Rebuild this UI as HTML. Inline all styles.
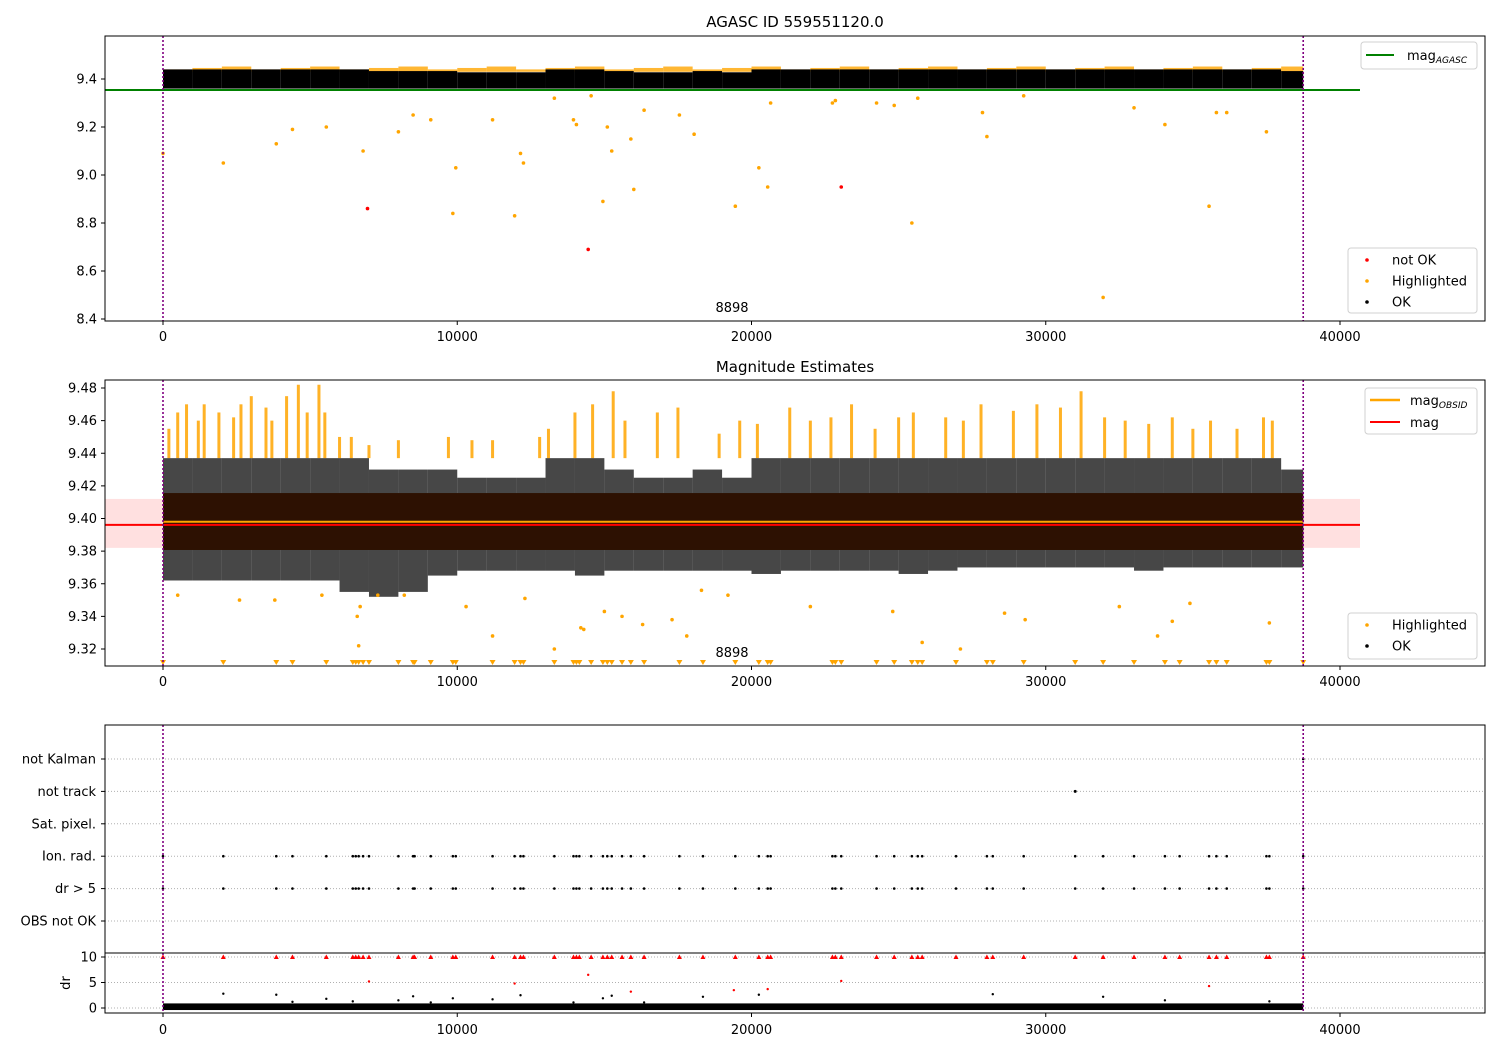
<!DOCTYPE html>
<html><head><meta charset="utf-8"><style>
html,body{margin:0;padding:0;background:#fff;}
svg{display:block;font-family:"DejaVu Sans","Liberation Sans",sans-serif;}
</style></head><body>
<svg id="chart" width="1500" height="1050" xmlns="http://www.w3.org/2000/svg"></svg>
<script>
// ---------- data ----------
const eventTimes = [0,2050,3850,4400,5550,6450,6550,6650,6800,7000,8000,8500,8550,9100,9850,9950,11200,11950,12150,12250,13300,13950,14050,14150,14550,14950,15100,15250,15600,15900,16350,17550,18350,19450,20250,20550,20650,22750,22850,23050,24250,24850,25450,25650,25800,26950,28000,28200,29250,31000,31950,33000,34050,34550,35550,35800,36150,37500,37600,38750];
const agascHighX = [0,2050,3850,4400,5550,6800,8000,8500,9100,9850,9950,11200,11950,12150,12250,13300,13950,14050,14550,14950,15100,15250,15900,16000,16350,17550,18050,19450,20250,20550,20650,22750,22850,24250,24850,25450,25650,27850,28000,29250,31950,33000,34050,35550,35800,36150,37500];
const agascHighY = [9.09,9.05,9.13,9.19,9.2,9.1,9.18,9.25,9.23,8.84,9.03,9.23,8.83,9.09,9.05,9.32,9.23,9.21,9.33,8.89,9.2,9.1,9.15,8.94,9.27,9.25,9.17,8.87,9.03,8.95,9.3,9.3,9.31,9.3,9.29,8.8,9.32,9.26,9.16,9.33,8.49,9.28,9.21,8.87,9.26,9.26,9.18];
const notOkX = [6950,14450,23050];
const notOkY = [8.86,8.69,8.95];
const binStart = [0,1000,2000,3000,4000,5000,6000,7000,8000,9000,10000,11000,12000,13000,14000,15000,16000,17000,18000,19000,20000,21000,22000,23000,24000,25000,26000,27000,28000,29000,30000,31000,32000,33000,34000,35000,36000,37000,38000];
const obsUpper = [9.437,9.437,9.437,9.437,9.437,9.437,9.437,9.43,9.43,9.43,9.425,9.425,9.425,9.437,9.437,9.43,9.425,9.425,9.43,9.425,9.437,9.437,9.437,9.437,9.437,9.437,9.437,9.437,9.437,9.437,9.437,9.437,9.437,9.437,9.437,9.437,9.437,9.437,9.43];
const obsLower = [9.362,9.362,9.362,9.362,9.362,9.362,9.355,9.352,9.355,9.365,9.368,9.368,9.368,9.368,9.365,9.368,9.368,9.368,9.368,9.368,9.366,9.368,9.368,9.368,9.368,9.366,9.368,9.37,9.37,9.37,9.37,9.37,9.37,9.368,9.37,9.37,9.37,9.37,9.37];
const spikeX = [200,500,800,1200,1400,1900,2400,2650,3000,3500,3700,4200,4600,4900,5300,5500,6000,6400,7000,8000,9700,10500,11200,12800,13100,14000,14600,15300,15700,16800,17500,18900,19600,20200,21300,22000,22700,23400,24200,25000,25500,26600,27200,27800,28900,29700,30500,31200,32000,32700,33500,34300,35000,35600,36500,37400,37700];
const spikeTop = [9.455,9.465,9.47,9.46,9.47,9.465,9.462,9.47,9.475,9.468,9.46,9.475,9.482,9.465,9.482,9.465,9.45,9.45,9.445,9.448,9.45,9.448,9.448,9.45,9.455,9.465,9.47,9.478,9.46,9.465,9.468,9.452,9.46,9.458,9.468,9.46,9.462,9.47,9.455,9.462,9.465,9.462,9.46,9.47,9.466,9.47,9.468,9.478,9.462,9.46,9.458,9.462,9.455,9.46,9.455,9.462,9.46];
const obsLowX = [500,2600,3800,5400,6600,6650,6700,7300,8200,10300,11200,12300,13300,14200,14300,15000,15600,16300,17300,17800,18300,19200,22000,24800,25800,27100,28600,29300,32500,33800,34300,34900,37600];
const obsLowY = [9.353,9.35,9.35,9.353,9.34,9.322,9.346,9.353,9.353,9.346,9.328,9.351,9.32,9.333,9.332,9.343,9.34,9.335,9.338,9.328,9.356,9.353,9.346,9.343,9.324,9.32,9.342,9.338,9.346,9.328,9.337,9.348,9.336];
const categories = ["not Kalman","not track","Sat. pixel.","Ion. rad.","dr > 5","OBS not OK"];
const notTrackX = [31000];
const notKalmanX = [38750];
const drRedX = [7000,11950,14450,15900,19400,20550,23050,35550];
const drRedY = [5.2,4.8,6.5,3.2,3.5,3.7,5.3,4.3];
const drBlackX = [2050,3850,4400,5550,6450,8000,8500,9100,9850,11200,12150,13950,14950,15250,16350,18350,20250,28200,31950,34050,37600];
const drBlackY = [2.8,2.6,1.2,1.8,1.3,1.5,2.3,1.1,1.9,1.7,2.5,1.1,1.9,2.4,1.1,2.2,2.6,2.7,2.2,1.5,1.3];
const xTicks = [0,10000,20000,30000,40000];
const y1Ticks = [8.4,8.6,8.8,9.0,9.2,9.4];
const y2Ticks = [9.32,9.34,9.36,9.38,9.40,9.42,9.44,9.46,9.48];
const y4Ticks = [0,5,10];
const magAgasc = 9.354, magObsid = 9.398, magMean = 9.397, magStd = 0.015;
const tEnd = 38750;

// ---------- scales ----------
const L=105, R=1485;
const xs = v => 163 + v*0.029425;
const y1 = v => 79 + (9.4 - v)*240;
const y2 = v => 388 + (9.48 - v)*1631.25;
const y3 = i => 759 + i*32.4;
const y4 = v => 1008 - v*5.1;
const NS="http://www.w3.org/2000/svg";
const svg=document.getElementById('chart');
function mk(tag, a, parent){const e=document.createElementNS(NS,tag);for(const k in a)e.setAttribute(k,a[k]);(parent||svg).appendChild(e);return e;}
function clip(id,x,y,w,h){const c=mk('clipPath',{id:id});mk('rect',{x:x,y:y,width:w,height:h},c);}
clip('c1',L,36,R-L,285);clip('c2',L,380,R-L,286);clip('c3',L,725,R-L,228);clip('c4',L,953,R-L,60);
const g1=mk('g',{'clip-path':'url(#c1)'});


const g2=mk('g',{'clip-path':'url(#c2)'});


const g3=mk('g',{'clip-path':'url(#c3)'});


const g4=mk('g',{'clip-path':'url(#c4)'});



function text(str,x,y,opt){const t=mk('text',Object.assign({x:x,y:y,'font-size':13,fill:'#000'},opt||{}));t.textContent=str;return t;}

// ---------- panel 1 ----------
for(let i=0;i<binStart.length;i++){
  const x0=xs(binStart[i]), x1=xs(Math.min(binStart[i]+1000,tEnd));
  const ob=mk('rect',{x:x0,y:y1(9.44+0.012*((i%3)/2)),width:x1-x0,height:y1(9.43)-y1(9.44+0.012*((i%3)/2)),fill:'orange','fill-opacity':0.8},g1);
  
  
  const b=mk('rect',{x:x0,y:y1(obsUpper[i]+0.003),width:x1-x0,height:y1(9.36)-y1(obsUpper[i]+0.003),fill:'#000'},g1);
  
  
}
for(let i=0;i<agascHighX.length;i++){
  const c=mk('circle',{cx:xs(agascHighX[i]),cy:y1(agascHighY[i]),r:1.8,fill:'orange'},g1);
  
  
}
for(let i=0;i<notOkX.length;i++){
  const c=mk('circle',{cx:xs(notOkX[i]),cy:y1(notOkY[i]),r:1.8,fill:'red'},g1);
  
  
}
const gl=mk('line',{x1:L,x2:1360,y1:y1(magAgasc),y2:y1(magAgasc),stroke:'green','stroke-width':2},g1);



// ---------- panel 2 ----------
const pk=mk('rect',{x:L,y:y2(magMean+magStd),width:1360-L,height:y2(magMean-magStd)-y2(magMean+magStd),fill:'rgba(255,0,0,0.12)'},g2);


for(let i=0;i<spikeX.length;i++){
  const s=mk('rect',{x:xs(spikeX[i])-1.5,y:y2(spikeTop[i]),width:3,height:y2(9.437)-y2(spikeTop[i]),fill:'orange','fill-opacity':0.85},g2);
  
  
}
for(let i=0;i<binStart.length;i++){
  const x0=xs(binStart[i]), x1=xs(Math.min(binStart[i]+1000,tEnd));
  const b=mk('rect',{x:x0,y:y2(obsUpper[i]),width:x1-x0,height:y2(obsLower[i])-y2(obsUpper[i]),fill:'#000','fill-opacity':0.72},g2);
  
  
}
const br=mk('rect',{x:xs(0),y:y2(9.4156),width:xs(tEnd)-xs(0),height:y2(9.3807)-y2(9.4156),fill:'#2d1102'},g2);


for(let i=0;i<obsLowX.length;i++){
  const c=mk('circle',{cx:xs(obsLowX[i]),cy:y2(obsLowY[i]),r:1.8,fill:'orange'},g2);
  
  
}
for(let i=0;i<eventTimes.length;i++){
  const x=xs(eventTimes[i]),y=663;
  const t=mk('path',{d:`M${x-3},${y-3} L${x+3},${y-3} L${x},${y+2} Z`,fill:'orange'},g2);
  
  
}
const ol=mk('line',{x1:xs(0),x2:xs(tEnd),y1:y2(magObsid),y2:y2(magObsid),stroke:'orange','stroke-width':2},g2);


const rl=mk('line',{x1:L,x2:1360,y1:y2(magMean)+1.5,y2:y2(magMean)+1.5,stroke:'red','stroke-width':2},g2);



// ---------- panel 3 ----------
for(let i=0;i<categories.length;i++){
  const l=mk('line',{x1:L,x2:R,y1:y3(i),y2:y3(i),stroke:'#b0b0b0','stroke-dasharray':'1,2'},g3);
  
  
  const t=text(categories[i],96,y3(i)+4.5,{'text-anchor':'end'});
  
  
}
for(let i=0;i<eventTimes.length;i++){
  for(const row of [3,4]){
    const c=mk('circle',{cx:xs(eventTimes[i]),cy:y3(row),r:1.3,fill:'#000'},g3);
    
    
  }
}
for(let i=0;i<notTrackX.length;i++){
  const c=mk('circle',{cx:xs(notTrackX[i]),cy:y3(1),r:1.5,fill:'#000'},g3);
  
  
}
for(let i=0;i<notKalmanX.length;i++){
  const c=mk('circle',{cx:xs(notKalmanX[i]),cy:y3(0),r:1.3,fill:'#000'},g3);
  
  
}

// ---------- panel 4 ----------
for(let i=0;i<y4Ticks.length;i++){
  const l=mk('line',{x1:L,x2:R,y1:y4(y4Ticks[i]),y2:y4(y4Ticks[i]),stroke:'#b0b0b0','stroke-dasharray':'1,2'},g4);
  
  
}
const db=mk('rect',{x:xs(0),y:y4(0.9),width:xs(tEnd)-xs(0),height:y4(-0.4)-y4(0.9),fill:'#000'},g4);


for(let i=0;i<eventTimes.length;i++){
  const x=xs(eventTimes[i]),y=y4(10);
  const t=mk('path',{d:`M${x-2.5},${y+2} L${x+2.5},${y+2} L${x},${y-2.5} Z`,fill:'red'},g4);
  
  
}
for(let i=0;i<drRedX.length;i++){
  const c=mk('circle',{cx:xs(drRedX[i]),cy:y4(drRedY[i]),r:1.2,fill:'red'},g4);
  
  
}
for(let i=0;i<drBlackX.length;i++){
  const c=mk('circle',{cx:xs(drBlackX[i]),cy:y4(drBlackY[i]),r:1.2,fill:'#000'},g4);
  
  
}

// ---------- vertical dotted limits, frames, ticks ----------
const frames=[[36,321],[380,666],[725,953],[953,1013]];
for(const [t,b] of frames){
  for(const v of [0,tEnd]){
    const l=mk('line',{x1:xs(v),x2:xs(v),y1:t,y2:b,stroke:'purple','stroke-width':1.6,'stroke-dasharray':'2,2'});
    
    
  }
  const r=mk('rect',{x:L,y:t,width:R-L,height:b-t,fill:'none',stroke:'#000','stroke-width':1});
  
  
}
for(const [b,ly] of [[321,337],[666,682],[1013,1030]]){
  for(let i=0;i<xTicks.length;i++){
    const x=xs(xTicks[i]);
    const tk=mk('line',{x1:x,x2:x,y1:b,y2:b+4,stroke:'#000'});
    
    
    const t=text(String(xTicks[i]),x,ly+4,{'text-anchor':'middle'});
    
    
  }
}
for(let i=0;i<y1Ticks.length;i++){
  const y=y1(y1Ticks[i]);
  const tk=mk('line',{x1:L-4,x2:L,y1:y,y2:y,stroke:'#000'});
  
  
  const t=text(y1Ticks[i].toFixed(1),97,y+4.5,{'text-anchor':'end'});
  
  
}
for(let i=0;i<y2Ticks.length;i++){
  const y=y2(y2Ticks[i]);
  const tk=mk('line',{x1:L-4,x2:L,y1:y,y2:y,stroke:'#000'});
  
  
  const t=text(y2Ticks[i].toFixed(2),97,y+4.5,{'text-anchor':'end'});
  
  
}
for(let i=0;i<y4Ticks.length;i++){
  const y=y4(y4Ticks[i]);
  const tk=mk('line',{x1:L-4,x2:L,y1:y,y2:y,stroke:'#000'});
  
  
  const t=text(String(y4Ticks[i]),97,y+4.5,{'text-anchor':'end'});
  
  
}
for(let i=0;i<categories.length;i++){
  const tk=mk('line',{x1:L-4,x2:L,y1:y3(i),y2:y3(i),stroke:'#000'});
  
  
}
const dl=text('dr',70,983,{'text-anchor':'middle',transform:'rotate(-90 70 983)'});



// titles & annotations
const t1=text('AGASC ID 559551120.0',795,27,{'text-anchor':'middle','font-size':15});


const t2=text('Magnitude Estimates',795,372,{'text-anchor':'middle','font-size':15});


const a1=text('8898',732,312,{'text-anchor':'middle'});


const a2=text('8898',732,657,{'text-anchor':'middle'});



// legends
function legendBox(x,y,w,h,name){const r=mk('rect',{x:x,y:y,width:w,height:h,fill:'#fff',stroke:'#d0d0d0',rx:3});}
legendBox(1361,42,116,27,'agasc-line-legend');
let e=mk('line',{x1:1366,x2:1394,y1:55,y2:55,stroke:'green','stroke-width':2});


e=text('mag',1407,60);e.innerHTML='mag<tspan font-size="9" font-style="italic" dy="3">AGASC</tspan>';



legendBox(1348,248,129,65,'agasc-point-legend');
const lp=[['not OK','red',260],['Highlighted','orange',281],['OK','#000',302]];
for(const [lab,col,y] of lp){
  const c=mk('circle',{cx:1367,cy:y,r:1.8,fill:col});
  
  
  const t=text(lab,1392,y+4.5);
  
  
}
legendBox(1365,388,112,46,'estimate-line-legend');
e=mk('line',{x1:1370,x2:1400,y1:400,y2:400,stroke:'orange','stroke-width':2.5});


e=text('mag',1410,405);e.innerHTML='mag<tspan font-size="9" font-style="italic" dy="3">OBSID</tspan>';


e=mk('line',{x1:1370,x2:1400,y1:422,y2:422,stroke:'red','stroke-width':2});


e=text('mag',1410,427);


legendBox(1348,613,129,46,'estimate-point-legend');
for(const [lab,col,y] of [['Highlighted','orange',625],['OK','#000',646]]){
  const c=mk('circle',{cx:1367,cy:y,r:1.8,fill:col});
  
  
  const t=text(lab,1392,y+4.5);
  
  
}
</script>
</body></html>
